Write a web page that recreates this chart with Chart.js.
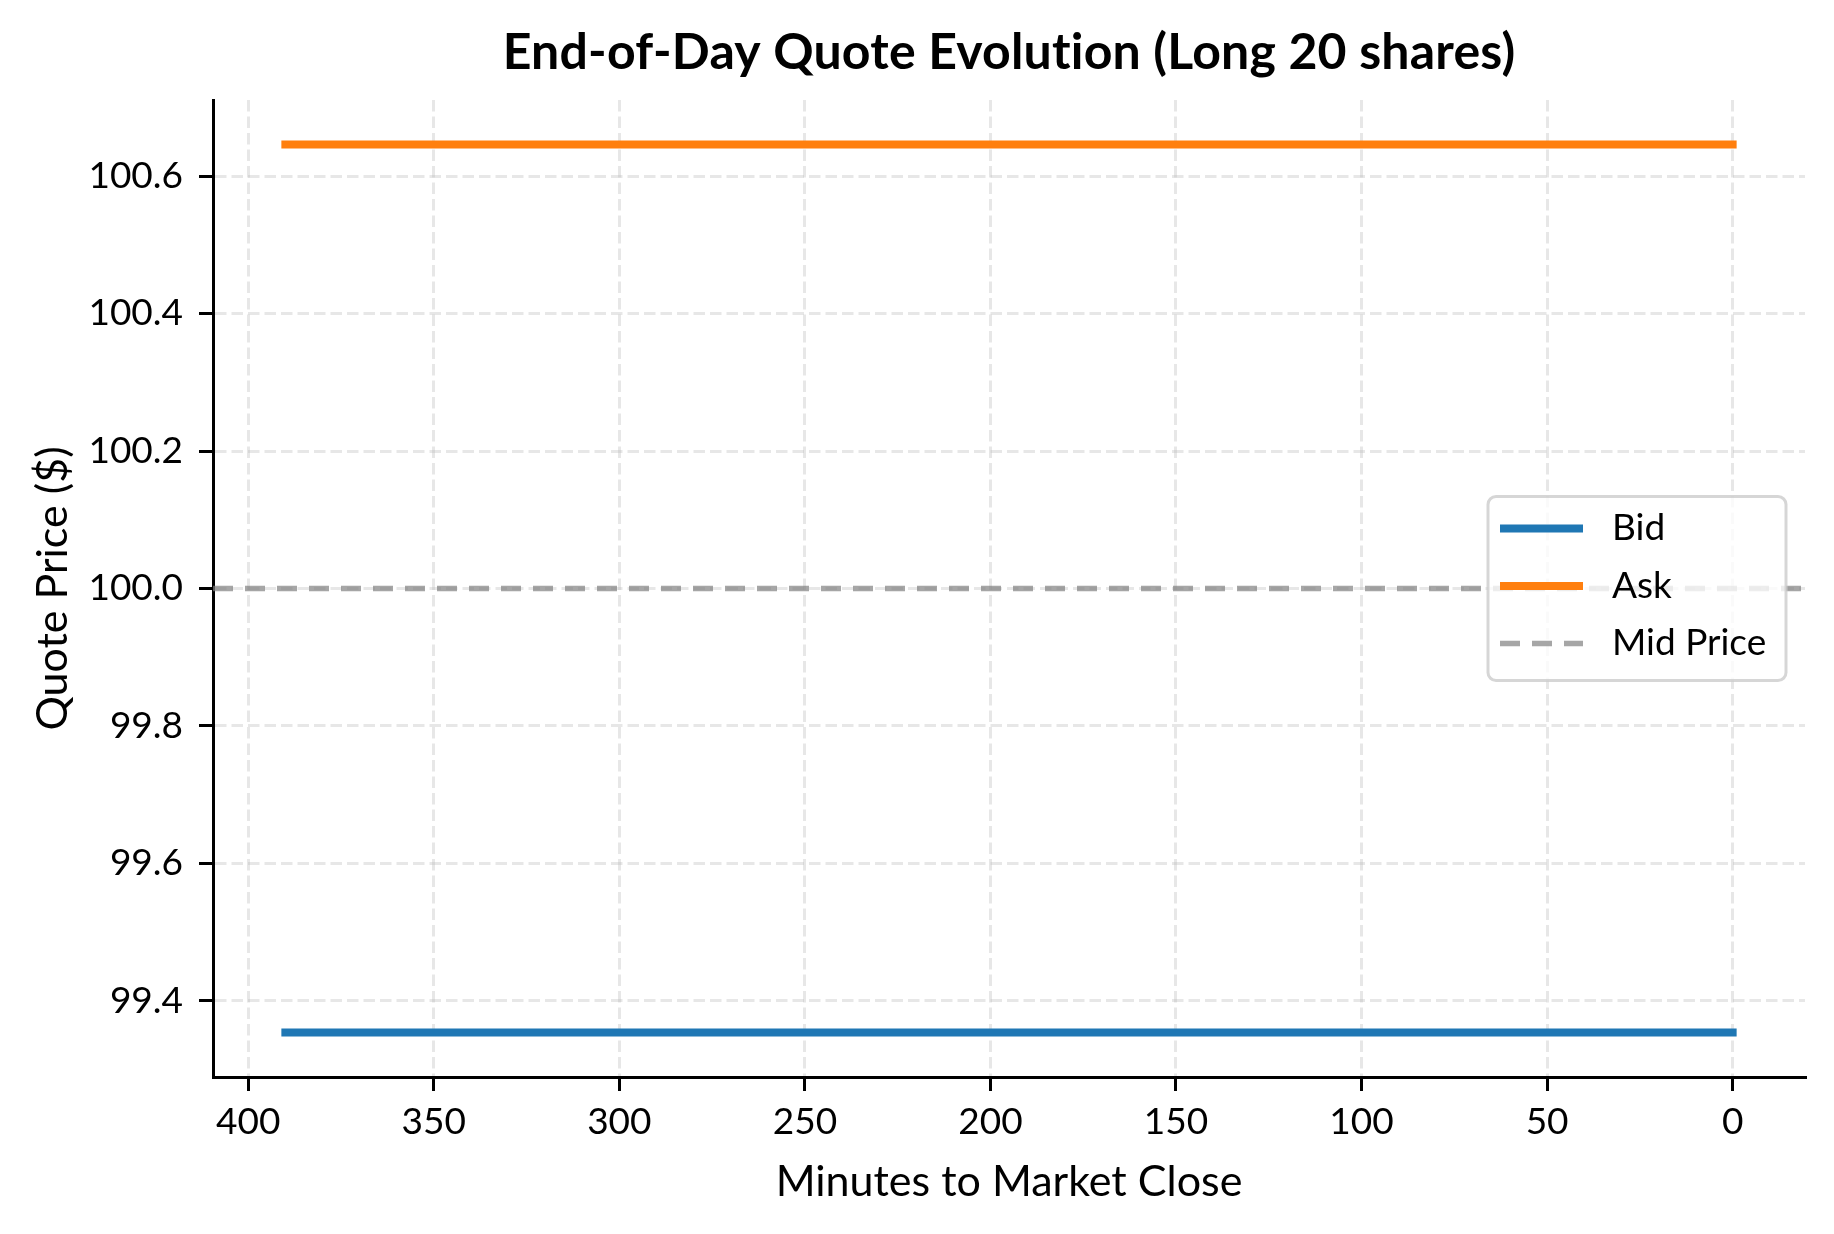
<!DOCTYPE html>
<html>
<head>
<meta charset="utf-8">
<title>End-of-Day Quote Evolution</title>
<script src="https://cdn.jsdelivr.net/npm/chart.js@4.4.1/dist/chart.umd.min.js"></script>
<style>
  html, body { margin: 0; padding: 0; background: #ffffff; }
  canvas { display: block; }
</style>
</head>
<body>
<canvas id="chart" width="1834" height="1234" style="width:1834px;height:1234px"></canvas>
<script>
// ---- data ----
const chartTitle = 'End-of-Day Quote Evolution (Long 20 shares)';
const xAxisTitle = 'Minutes to Market Close';
const yAxisTitle = 'Quote Price ($)';
const minutesToClose = [390, 360, 330, 300, 270, 240, 210, 180, 150, 120, 90, 60, 30, 0];
const bidPrices = [99.354, 99.354, 99.354, 99.354, 99.354, 99.354, 99.354, 99.354, 99.354, 99.354, 99.354, 99.354, 99.354, 99.354];
const askPrices = [100.646, 100.646, 100.646, 100.646, 100.646, 100.646, 100.646, 100.646, 100.646, 100.646, 100.646, 100.646, 100.646, 100.646];
const midPrice = 100.0;
const xTickValues = [400, 350, 300, 250, 200, 150, 100, 50, 0];
const yTickValues = [99.4, 99.6, 99.8, 100.0, 100.2, 100.4, 100.6];
const xLimits = [-19.5, 409.5];
const yLimits = [99.2894, 100.7106];
const seriesLabels = ['Bid', 'Ask', 'Mid Price'];

// ---- styling ----
const FONT = 'Lato';
const toPoints = (xs, ys) => xs.map((x, i) => ({ x: x, y: ys[i] }));

// Title centred over the plotting area (as matplotlib does)
const axesTitle = {
  id: 'axesTitle',
  afterDraw(chart) {
    const { ctx, chartArea: a } = chart;
    ctx.save();
    ctx.font = 'bold 50px ' + FONT;
    if ('letterSpacing' in ctx) ctx.letterSpacing = '0.2px';
    ctx.fillStyle = '#000000';
    ctx.textAlign = 'center';
    ctx.textBaseline = 'alphabetic';
    ctx.fillText(chartTitle, (a.left + a.right) / 2, 69);
    ctx.restore();
  }
};

const boxLegend = {
  id: 'boxLegend',
  afterDatasetsDraw(chart) {
    const { ctx, chartArea: a } = chart;
    const w = 298, h = 184;
    const x0 = a.right - 19 - w;
    const y0 = (a.top + a.bottom) / 2 - h / 2;
    ctx.save();
    ctx.beginPath();
    ctx.roundRect(x0, y0, w, h, 8);
    ctx.fillStyle = 'rgba(255,255,255,0.8)';
    ctx.fill();
    ctx.lineWidth = 3;
    ctx.strokeStyle = 'rgba(204,204,204,0.8)';
    ctx.stroke();
    chart.data.datasets.forEach((ds, i) => {
      const y = y0 + 32 + i * 57.5;
      ctx.beginPath();
      ctx.setLineDash(ds.borderDash || []);
      ctx.lineDashOffset = 0;
      ctx.lineCap = 'butt';
      ctx.lineWidth = ds.borderWidth;
      ctx.strokeStyle = ds.borderColor;
      ctx.moveTo(x0 + 12, y);
      ctx.lineTo(x0 + 95, y);
      ctx.stroke();
      ctx.setLineDash([]);
      ctx.fillStyle = '#000';
      ctx.font = '37px ' + FONT;
      ctx.textBaseline = 'middle';
      ctx.textAlign = 'left';
      ctx.fillText(ds.label, x0 + 124, y);
    });
    ctx.restore();
  }
};

const gridCommon = {
  color: 'rgba(176,176,176,0.3)',
  lineWidth: 3,
  drawTicks: true,
  tickLength: 14,
  tickWidth: 3,
  tickColor: '#000000'
};
const borderCommon = { display: true, color: '#000000', width: 3, dash: [11.5, 5] };

new Chart(document.getElementById('chart'), {
  type: 'line',
  data: {
    datasets: [
      {
        label: seriesLabels[0],
        data: toPoints(minutesToClose, bidPrices),
        borderColor: '#1f77b4',
        borderWidth: 8,
        borderCapStyle: 'square',
        pointRadius: 0,
        tension: 0
      },
      {
        label: seriesLabels[1],
        data: toPoints(minutesToClose, askPrices),
        borderColor: '#ff7f0e',
        borderWidth: 8,
        borderCapStyle: 'square',
        pointRadius: 0,
        tension: 0
      },
      {
        label: seriesLabels[2],
        data: toPoints([xLimits[1], xLimits[0]], [midPrice, midPrice]),
        borderColor: 'rgba(128,128,128,0.7)',
        borderWidth: 5.5,
        borderDash: [20, 12],
        pointRadius: 0,
        tension: 0
      }
    ]
  },
  options: {
    responsive: false,
    devicePixelRatio: 1,
    animation: false,
    events: [],
    layout: { padding: { left: 0, right: 29, top: 100, bottom: 0 } },
    plugins: {
      legend: { display: false },
      tooltip: { enabled: false },
      title: { display: false }
    },
    scales: {
      x: {
        type: 'linear',
        reverse: true,
        min: xLimits[0],
        max: xLimits[1],
        afterBuildTicks: (s) => { s.ticks = xTickValues.map(v => ({ value: v })); },
        afterFit: (s) => { s.height = 157; },
        grid: gridCommon,
        border: borderCommon,
        ticks: {
          color: '#000000',
          font: { family: FONT, size: 37 },
          padding: 9,
          autoSkip: false,
          maxRotation: 0,
          minRotation: 0,
          callback: (v) => String(v)
        },
        title: {
          display: true,
          text: xAxisTitle,
          color: '#000000',
          font: { family: FONT, size: 43 },
          padding: { top: 0, bottom: 26 }
        }
      },
      y: {
        type: 'linear',
        min: yLimits[0],
        max: yLimits[1],
        afterBuildTicks: (s) => { s.ticks = yTickValues.map(v => ({ value: v })); },
        afterFit: (s) => { s.width = 213; },
        grid: gridCommon,
        border: borderCommon,
        ticks: {
          color: '#000000',
          font: { family: FONT, size: 37 },
          padding: 16,
          autoSkip: false,
          callback: (v) => Number(v).toFixed(1)
        },
        title: {
          display: true,
          text: yAxisTitle,
          color: '#000000',
          font: { family: FONT, size: 43 },
          padding: { top: 27, bottom: 0 }
        }
      }
    }
  },
  plugins: [boxLegend, axesTitle]
});
</script>
</body>
</html>
